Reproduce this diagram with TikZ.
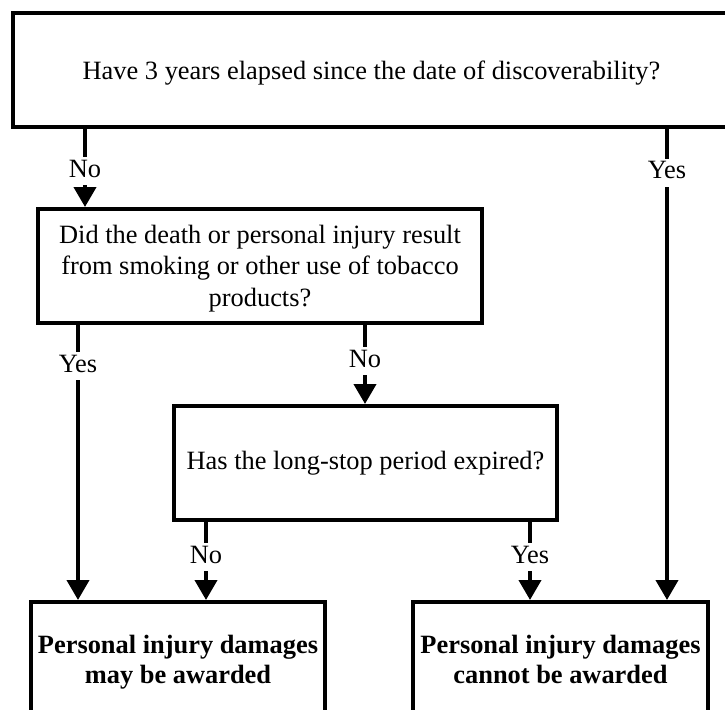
\documentclass[tikz,border=0pt]{standalone}
\usepackage{fontspec}
\setmainfont{Liberation Serif}
\usetikzlibrary{arrows.meta}
\begin{document}
\begin{tikzpicture}[x=0.75pt,y=-0.75pt,
  txt/.style={font=\fontsize{19.8}{23.6}\selectfont},
  box/.style={txt, draw, line width=3pt, inner sep=0pt, align=center, fill=white},
  result/.style={box, minimum height=85.5pt, font=\fontsize{19.8}{22.5}\selectfont\bfseries},
  arr/.style={line width=3pt, -{Triangle[width=16.5pt,length=15pt]}},
  lab/.style={txt, fill=white, inner sep=1.5pt, text height=13.5pt, text depth=4.5pt}]
\useasboundingbox (0,0) rectangle (725,710);
\fill[white] (0,0) rectangle (725,710);
\clip (0,0) rectangle (725,710);

\node[box, minimum width=537.75pt, minimum height=85.5pt, text height=18pt, text depth=4.3pt] (top) at (371.5,70)
  {Have 3 years elapsed since the date of discoverability?};
\node[box, minimum width=333pt, minimum height=85.5pt] (tob) at (260,266)
  {\rule{0pt}{17.3pt}Did the death or personal injury result\\from smoking or other use of tobacco\\products?};
\node[box, minimum width=287.25pt, minimum height=85.5pt] (ls) at (365.5,463)
  {Has the long-stop period expired?};
\node[result, minimum width=220.5pt] (may) at (178,659)
  {Personal injury damages\\\smash{may be awarded}};
\node[result, minimum width=221.25pt] (cannot) at (560.5,659)
  {Personal injury damages\\\smash{cannot be awarded}};

\coordinate (cA) at (85,0);
\coordinate (cB) at (667,0);
\coordinate (cC) at (78,0);
\coordinate (cD) at (365,0);
\coordinate (cE) at (206,0);
\coordinate (cF) at (530,0);

\draw[arr] (top.south -| cA) -- (tob.north -| cA) node[lab, pos=0.54] {No};
\draw[arr] (top.south -| cB) -- (cannot.north -| cB) node[lab, pos=0.093] {Yes};
\draw[arr] (tob.south -| cC) -- (may.north -| cC) node[lab, pos=0.15] {Yes};
\draw[arr] (tob.south -| cD) -- (ls.north -| cD) node[lab, pos=0.46] {No};
\draw[arr] (ls.south -| cE) -- (may.north -| cE) node[lab, pos=0.45] {No};
\draw[arr] (ls.south -| cF) -- (cannot.north -| cF) node[lab, pos=0.45] {Yes};
\end{tikzpicture}
\end{document}
